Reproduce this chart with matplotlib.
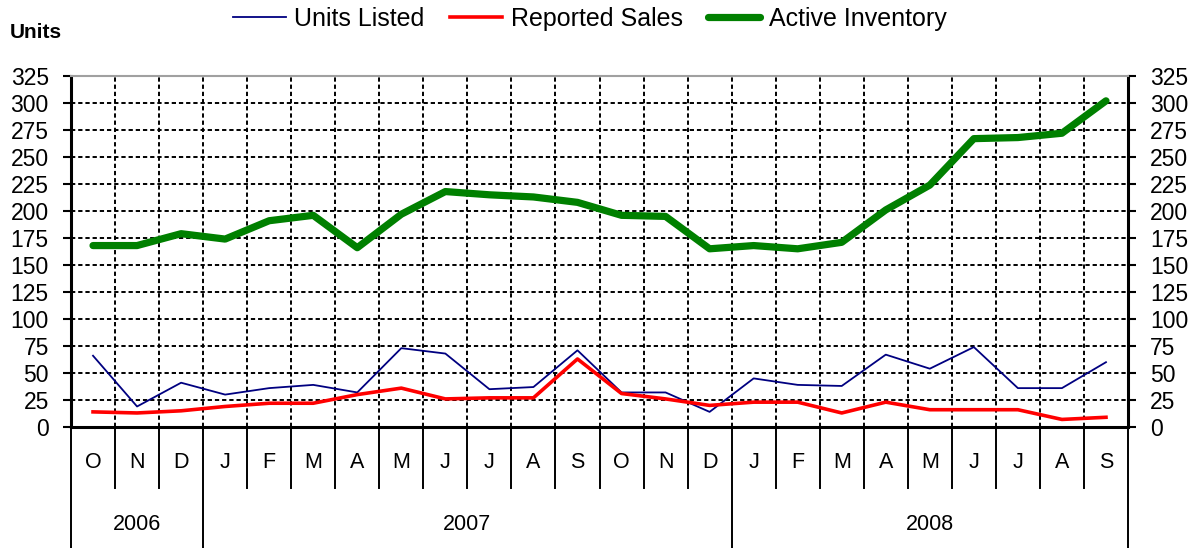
import matplotlib
matplotlib.use('Agg')
import matplotlib.pyplot as plt
import matplotlib.transforms as mtransforms
from matplotlib.lines import Line2D

months = ['O', 'N', 'D', 'J', 'F', 'M', 'A', 'M', 'J', 'J', 'A', 'S',
          'O', 'N', 'D', 'J', 'F', 'M', 'A', 'M', 'J', 'J', 'A', 'S']
years = ['2006', '2007', '2008']
year_starts = [0, 3, 15]
year_ends = [3, 15, 24]

units_listed = [66, 19, 41, 30, 36, 39, 32, 73, 68, 35, 37, 71,
                32, 32, 14, 45, 39, 38, 67, 54, 74, 36, 36, 60]
reported_sales = [14, 13, 15, 19, 22, 22, 30, 36, 26, 27, 27, 63,
                  31, 26, 20, 23, 23, 13, 23, 16, 16, 16, 7, 9]
active_inventory = [168, 168, 179, 174, 191, 196, 166, 197, 218, 215, 213, 208,
                    196, 195, 165, 168, 165, 171, 201, 224, 267, 268, 272, 302]
y_ticks = list(range(0, 326, 25))

plt.rcParams['font.family'] = ['Liberation Sans', 'DejaVu Sans']
FS_TICK = 16.5
FS_CAT = 15.5

W, H = 1202, 548
fig = plt.figure(figsize=(W / 100, H / 100), dpi=100)
L, R, T, B = 71, 1128, 76, 427
ax = fig.add_axes([L / W, 1 - B / H, (R - L) / W, (B - T) / H])

x = list(range(len(months)))
ax.plot(x, units_listed, color='#000080', lw=1.3, label='Units Listed', zorder=3)
ax.plot(x, reported_sales, color='#ff0000', lw=2.6, label='Reported Sales', zorder=4)
ax.plot(x, active_inventory, color='#008000', lw=5.2, label='Active Inventory',
        zorder=5, solid_capstyle='round')

ax.set_xlim(-0.5, len(months) - 0.5)
ax.set_ylim(0, 325)
ax.set_yticks(y_ticks)
ax.set_xticks([])
ax.set_xticks([i + 0.5 for i in range(len(months) - 1)], minor=True)
ax.tick_params(axis='x', which='both', length=0, labelbottom=False)
ax.tick_params(axis='y', which='major', left=True, right=True, labelleft=True,
               labelright=True, direction='out', length=6, width=1.5,
               labelsize=FS_TICK, pad=10)
ax.grid(axis='y', which='major', color='black', lw=1.4, linestyle=(0, (2.2, 1.5)))
ax.grid(axis='x', which='minor', color='black', lw=1.4, linestyle=(0, (2.2, 1.5)))
ax.set_axisbelow(True)

for s in ['left', 'right', 'bottom']:
    ax.spines[s].set_color('black')
    ax.spines[s].set_linewidth(2.2)
ax.spines['top'].set_color('#a0a0a0')
ax.spines['top'].set_linewidth(1.5)

trans = mtransforms.blended_transform_factory(ax.transData, fig.transFigure)
y_axis_fig = 1 - B / H
y_month_end = 1 - 488 / H
for k in range(len(months) + 1):
    xb = k - 0.5
    bottom = 0.0 if (k in year_starts or k == len(months)) else y_month_end
    fig.add_artist(Line2D([xb, xb], [y_axis_fig, bottom], transform=trans,
                          color='black', lw=1.4))

for i, m in enumerate(months):
    fig.text(i, 1 - 462 / H, m, transform=trans, ha='center', va='center',
             fontsize=FS_CAT)
for yr, s, e in zip(years, year_starts, year_ends):
    fig.text((s + e - 1) / 2, 1 - 524 / H, yr, transform=trans, ha='center',
             va='center', fontsize=FS_CAT)

fig.text(10 / W, 1 - 33 / H, 'Units', fontsize=15, fontweight='bold',
         ha='left', va='center')

fig.legend(loc='center', bbox_to_anchor=(590 / W, 1 - 19 / H), ncol=3,
           frameon=False, fontsize=18, handlelength=2.1, handletextpad=0.35,
           columnspacing=1.0, borderaxespad=0)

fig.savefig('out.png', dpi=100)
